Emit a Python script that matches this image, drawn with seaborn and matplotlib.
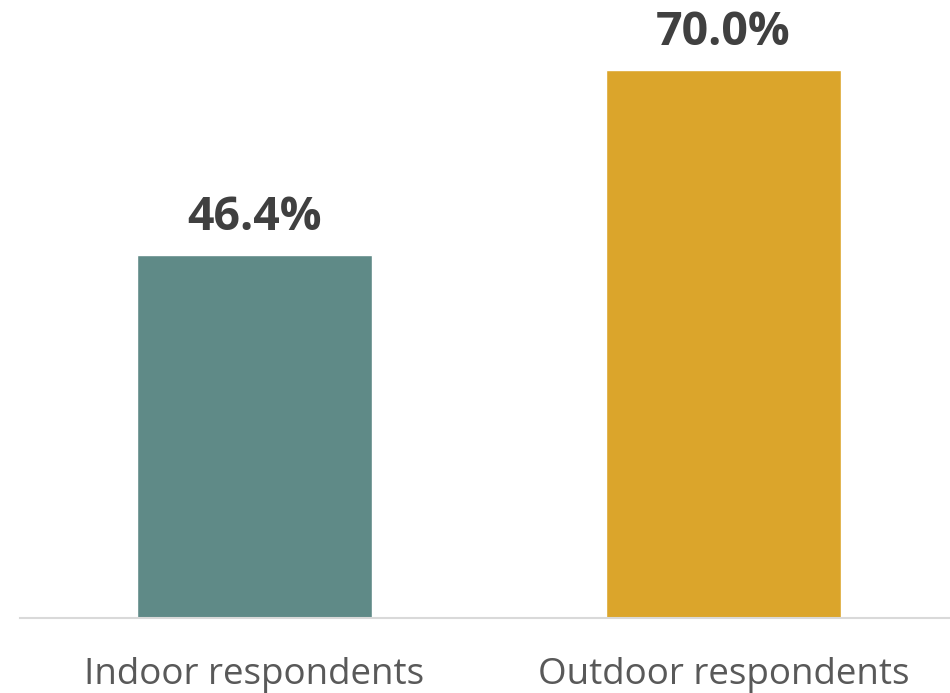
import matplotlib
matplotlib.use("Agg")
import matplotlib.pyplot as plt
import seaborn as sns
import pandas as pd

categories = ["Indoor respondents", "Outdoor respondents"]
values = [46.4, 70.0]
labels = ["46.4%", "70.0%"]
colors = ["#5F8A87", "#DBA52B"]

sns.set_theme(style="white")
plt.rcParams["font.family"] = ["Open Sans", "DejaVu Sans"]

W, H = 950, 693
fig = plt.figure(figsize=(W / 100, H / 100), dpi=100)
ax = fig.add_axes([20 / W, 75 / H, 938 / W, 618 / H])

df = pd.DataFrame({"group": categories, "share": values})
sns.barplot(data=df, x="group", y="share", hue="group", palette=colors,
            width=0.5, legend=False, ax=ax, saturation=1)

ax.set_xlim(-0.5, 1.5)
ax.set_ylim(0, 618 / 7.83)

for i, (v, t) in enumerate(zip(values, labels)):
    ax.text(i, v + 3.2, t, ha="center", va="baseline", fontsize=33.5,
            fontweight="bold", color="#404040")

for s in ["top", "right", "left"]:
    ax.spines[s].set_visible(False)
ax.spines["bottom"].set_color("#D9D9D9")
ax.spines["bottom"].set_linewidth(1.5)
ax.set_yticks([])
ax.set_xlabel("")
ax.set_ylabel("")
ax.tick_params(axis="x", length=0, pad=28, labelsize=26.5, labelcolor="#595959")

fig.savefig("out.png", dpi=100)
